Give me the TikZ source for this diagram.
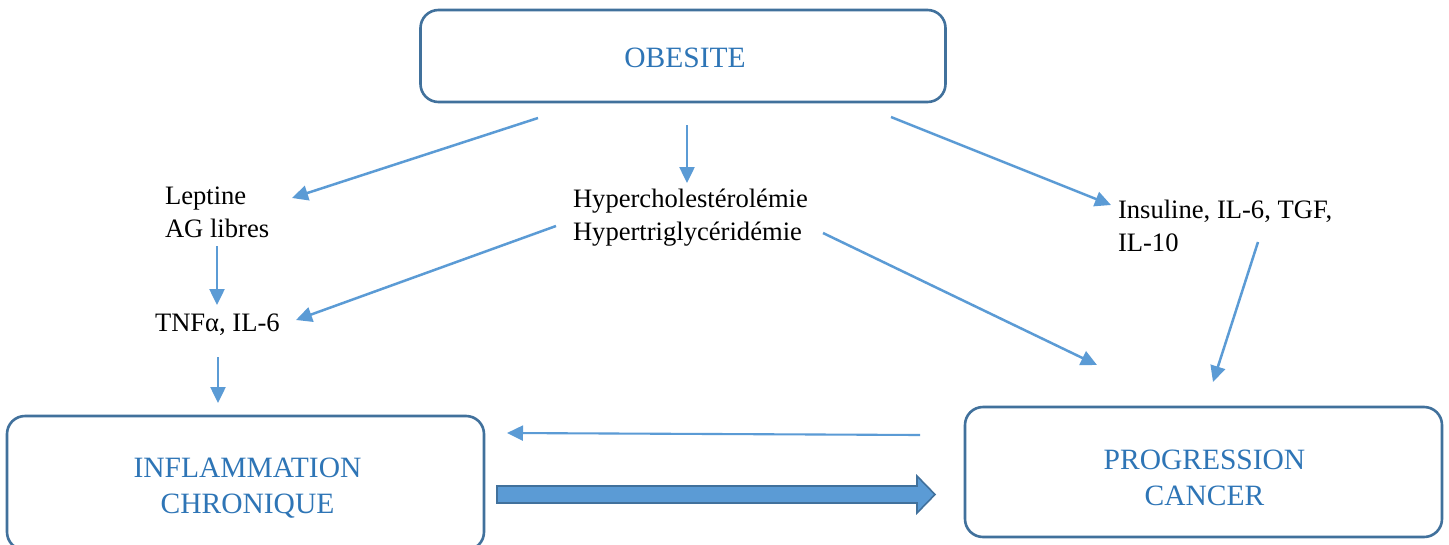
\documentclass[tikz,border=0pt]{standalone}
\usepackage{fontspec}
\setmainfont{Liberation Serif}
\usetikzlibrary{arrows.meta}
\definecolor{boxline}{HTML}{41719C}
\definecolor{boxtext}{HTML}{2E75B6}
\definecolor{arrowc}{HTML}{5B9BD5}
\newcommand{\blacktxt}{\fontsize{26.6}{33}\selectfont}
\newcommand{\bluetxt}{\fontsize{29.5}{36}\selectfont}
\tikzset{
  bigbox/.style={draw=boxline, line width=2.6pt, rounded corners=18pt, fill=white, inner sep=0pt},
  plain/.style={inner sep=0pt, outer sep=0pt, font=\blacktxt, text=black},
  boxlabel/.style={inner sep=0pt, outer sep=0pt, font=\bluetxt, text=boxtext},
  arr/.style={draw=arrowc, line width=2.5pt, -{Triangle[length=16pt,width=15pt]}},
  thinarr/.style={draw=arrowc, line width=2.1pt, -{Triangle[length=16pt,width=15pt]}},
  fatarrow/.style={fill=arrowc, draw=boxline, line width=1.6pt, line join=miter}
}
\begin{document}
\begin{tikzpicture}[x=1pt,y=-1pt]
\useasboundingbox (0,0) rectangle (1449,544);
\clip (0,0) rectangle (1449,544);
\fill[white] (0,0) rectangle (1449,544);

% boxes
\node[bigbox, minimum width=525pt, minimum height=92pt] (obesite) at (683,56) {};
\node[bigbox, minimum width=477pt, minimum height=134pt] (inflam) at (245.5,483) {};
\node[bigbox, minimum width=477pt, minimum height=130pt] (progr) at (1203.5,472) {};

% box labels
\node[boxlabel, anchor=base] (obesiteT) at (685,67) {OBESITE};
\node[boxlabel, anchor=base] (inflamT) at (247.5,477)
  {\begin{tabular}[t]{@{}c@{}}INFLAMMATION\\CHRONIQUE\end{tabular}};
\node[boxlabel, anchor=base] (progrT) at (1204.5,469)
  {\begin{tabular}[t]{@{}c@{}}PROGRESSION\\CANCER\end{tabular}};

% plain texts
\node[plain, anchor=base west] (leptine) at (165,204)
  {\begin{tabular}[t]{@{}l@{}}Leptine\\AG libres\end{tabular}};
\node[plain, anchor=base west] (tnf) at (155,331) {TNFα, IL-6};
\node[plain, anchor=base west] (hyper) at (573,207)
  {\begin{tabular}[t]{@{}l@{}}Hypercholestérolémie\\Hypertriglycéridémie\end{tabular}};
\node[plain, anchor=base west] (insul) at (1118,218)
  {\begin{tabular}[t]{@{}l@{}}Insuline, IL-6, TGF,\\IL-10\end{tabular}};

% connector end points
\coordinate (o1) at (538,118);
\coordinate (o2) at (687,125);
\coordinate (o3) at (891,117);
\coordinate (lepIn) at (292,198);
\coordinate (hypIn) at (687,183);
\coordinate (insIn) at (1111,205);
\coordinate (lepOut) at (217,246);
\coordinate (tnfIn1) at (217,305);
\coordinate (hypOutL) at (556,226);
\coordinate (tnfIn2) at (296,320);
\coordinate (tnfOut) at (218,357);
\coordinate (infIn) at (218,403);
\coordinate (hypOutR) at (823,233);
\coordinate (prgIn1) at (1097,365);
\coordinate (insOut) at (1258,242);
\coordinate (prgIn2) at (1213,382);
\coordinate (prgOut) at (920,435);
\coordinate (infIn2) at (507,433);

\draw[arr] (o1) -- (lepIn);
\draw[arr] (o2) -- (hypIn);
\draw[arr] (o3) -- (insIn);
\draw[arr] (lepOut) -- (tnfIn1);
\draw[arr] (hypOutL) -- (tnfIn2);
\draw[arr] (tnfOut) -- (infIn);
\draw[arr] (hypOutR) -- (prgIn1);
\draw[arr] (insOut) -- (prgIn2);
\draw[thinarr] (prgOut) -- (infIn2);

% thick arrow inflammation -> progression
\draw[fatarrow] (497,486) -- (917,486) -- (917,476) -- (935,494.5) -- (917,513) -- (917,503) -- (497,503) -- cycle;
\end{tikzpicture}
\end{document}
